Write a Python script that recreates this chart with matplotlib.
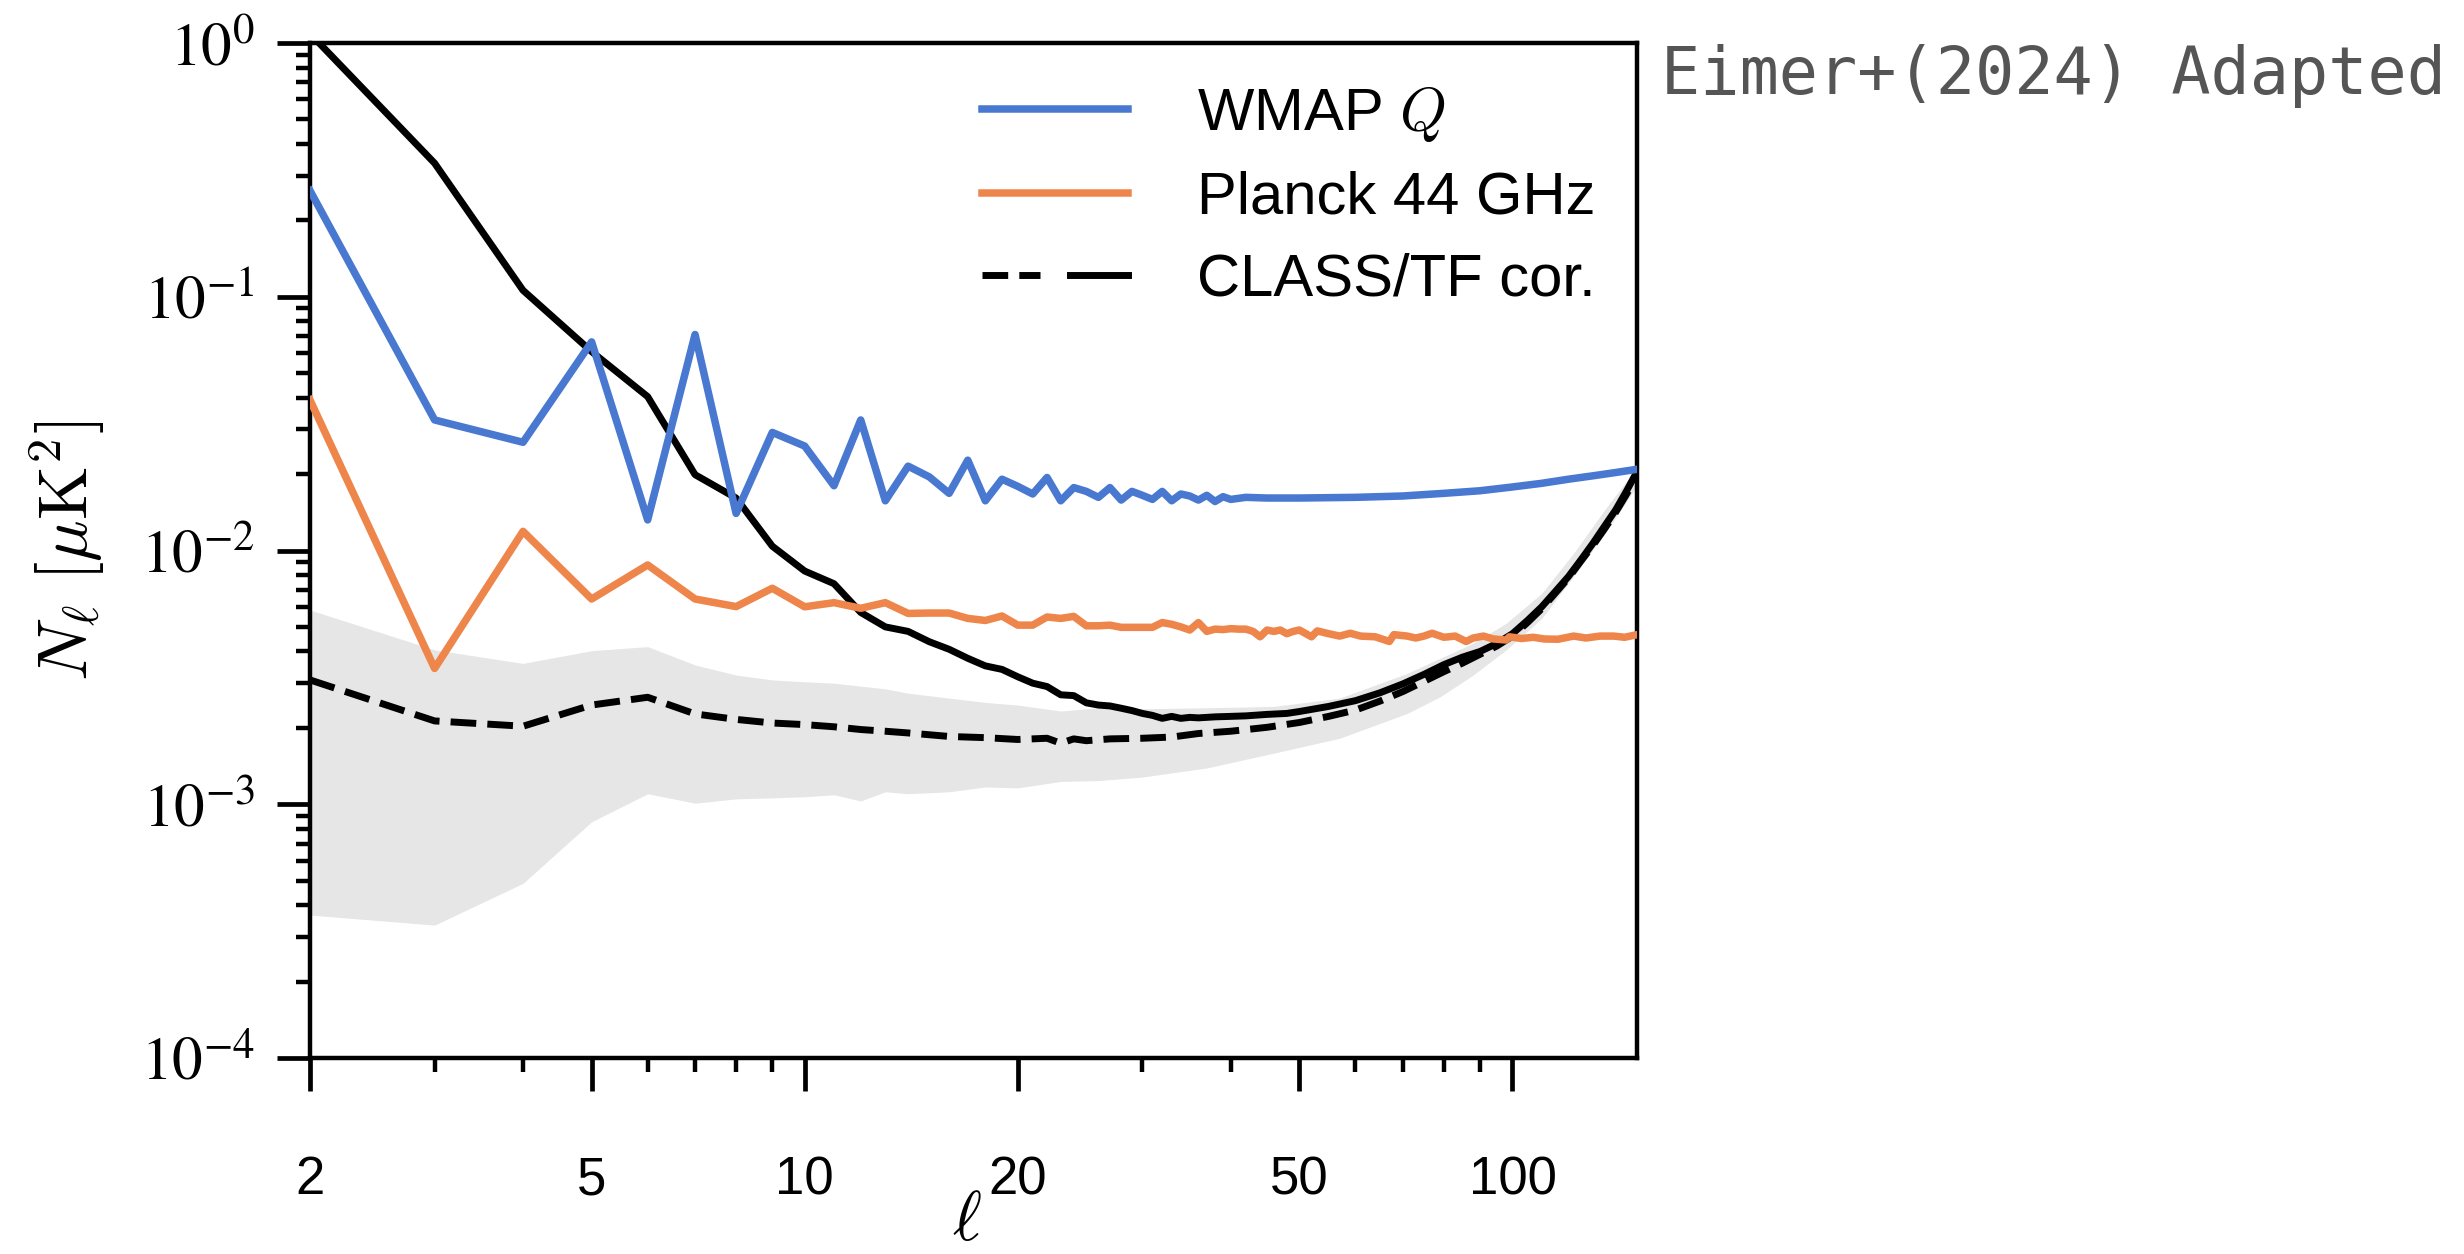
import matplotlib.pyplot as plt
import numpy as np
from matplotlib.legend_handler import HandlerTuple
from matplotlib.ticker import NullFormatter

plt.rcParams['font.family'] = ['Liberation Sans', 'DejaVu Sans']
plt.rcParams['mathtext.fontset'] = 'stix'

# WMAP Q noise spectrum
wmap_ell = [2, 3, 4, 5, 6, 7, 8, 9, 10, 11, 12, 13, 14, 15, 16, 17, 18, 19, 20,
            21, 22, 23, 24, 25, 26, 27, 28, 29, 30, 31, 32, 33, 34, 35, 36, 37,
            38, 39, 40, 42, 45, 50, 60, 70, 80, 90, 100, 110, 120, 130, 140, 150]
wmap_nl = [0.262, 0.0327, 0.0267, 0.0664, 0.0132, 0.0710, 0.0140, 0.0292,
           0.0258, 0.0180, 0.0327, 0.0157, 0.0215, 0.0195, 0.0168, 0.0227,
           0.0157, 0.0191, 0.0179, 0.0167, 0.0194, 0.0157, 0.0177, 0.0171,
           0.0162, 0.0177, 0.0158, 0.0171, 0.0165, 0.0159, 0.0171, 0.0157,
           0.0167, 0.0164, 0.0158, 0.0165, 0.0156, 0.0163, 0.0159, 0.0162,
           0.0161, 0.0161, 0.0162, 0.0164, 0.0168, 0.0172, 0.0178, 0.0184,
           0.0191, 0.0197, 0.0203, 0.0209]

# Planck 44 GHz noise spectrum
planck_ell = [2, 3, 4, 5, 6, 7, 8, 9, 10, 11, 12, 13, 14, 15, 16, 17, 18, 19,
              20, 21, 22, 23, 24, 25, 26, 27, 28, 29, 30, 31, 32, 33, 34, 35,
              36, 37, 38, 39, 40, 41, 42, 43, 44, 45, 46, 47, 48, 49, 50, 52,
              53, 55, 57, 59, 61, 64, 67, 68, 71, 73, 75, 77, 80, 83, 86, 88,
              91, 94, 98, 99, 103, 107, 111, 116, 122, 127, 133, 139, 144, 150]
planck_nl = [0.0392, 0.00343, 0.0119, 0.00644, 0.00877, 0.00644, 0.00601,
             0.00710, 0.00600, 0.00623, 0.00592, 0.00623, 0.00565, 0.00567,
             0.00567, 0.00540, 0.00530, 0.00552, 0.00508, 0.00508, 0.00547,
             0.00540, 0.00550, 0.00505, 0.00505, 0.00508, 0.00498, 0.00498,
             0.00498, 0.00498, 0.00520, 0.00512, 0.00500, 0.00486, 0.00520,
             0.00480, 0.00490, 0.00488, 0.00492, 0.00490, 0.00490, 0.00480,
             0.00457, 0.00486, 0.00480, 0.00486, 0.00470, 0.00480, 0.00486,
             0.00457, 0.00482, 0.00470, 0.00460, 0.00472, 0.00460, 0.00457,
             0.00438, 0.00466, 0.00460, 0.00452, 0.00460, 0.00472, 0.00455,
             0.00460, 0.00438, 0.00452, 0.00460, 0.00448, 0.00444, 0.00457,
             0.00450, 0.00455, 0.00448, 0.00447, 0.00460, 0.00452, 0.00460,
             0.00460, 0.00455, 0.00466]

# CLASS noise (solid)
class_ell = [2, 3, 4, 5, 6, 7, 8, 9, 10, 11, 12, 13, 14, 15, 16, 17, 18, 19,
             20, 21, 22, 23, 24, 25, 26, 27, 28, 29, 30, 31, 32, 33, 34, 35,
             36, 37, 38, 40, 42, 45, 48, 50, 55, 60, 65, 70, 75, 80, 85, 90,
             95, 100, 105, 110, 115, 120, 125, 130, 135, 140, 145, 150]
class_nl = [1.09, 0.336, 0.106, 0.0608, 0.0404, 0.0199, 0.0161, 0.0104,
            0.0083, 0.0074, 0.0057, 0.0050, 0.0048, 0.00437, 0.00408, 0.00376,
            0.00351, 0.00340, 0.00318, 0.00300, 0.00291, 0.00270, 0.00268,
            0.00251, 0.00246, 0.00244, 0.00239, 0.00234, 0.00228, 0.00224,
            0.00218, 0.00222, 0.00218, 0.00220, 0.00219, 0.00220, 0.00221,
            0.00222, 0.00223, 0.00226, 0.00228, 0.00232, 0.00243, 0.00256,
            0.00275, 0.00298, 0.00325, 0.00355, 0.0038, 0.0040, 0.0043,
            0.0047, 0.0053, 0.0060, 0.0069, 0.0079, 0.0092, 0.0107, 0.0125,
            0.0145, 0.0172, 0.0205]

# transfer-function corrected CLASS noise (dashed)
tf_ell = [2, 3, 4, 5, 6, 7, 8, 9, 10, 11, 12, 13, 14, 16, 18, 20, 22, 23, 24,
          25, 27, 30, 33, 36, 40, 45, 50, 55, 60, 65, 70, 75, 80, 85, 90, 95,
          100, 105, 110, 115, 120, 125, 130, 135, 140, 145, 150]
tf_nl = [0.00309, 0.00213, 0.00203, 0.00246, 0.00264, 0.00227, 0.00216,
         0.00209, 0.00206, 0.00202, 0.00197, 0.00194, 0.00191, 0.00185,
         0.00183, 0.00180, 0.00182, 0.00174, 0.00181, 0.00178, 0.00181,
         0.00182, 0.00184, 0.00190, 0.00194, 0.00201, 0.00210, 0.00222,
         0.00235, 0.00255, 0.00278, 0.00305, 0.00333, 0.0036, 0.0039, 0.0042,
         0.0046, 0.0052, 0.0059, 0.0068, 0.0078, 0.0091, 0.0105, 0.0122,
         0.0142, 0.0167, 0.0198]

# spread of the corrected noise (grey band)
band_ell = [2, 3, 4, 5, 6, 7, 8, 9, 10, 11, 12, 13, 14, 16, 18, 20, 23, 26,
            30, 37, 46, 57, 71, 79, 88, 98, 110, 122, 136, 150]
band_hi = [0.00583, 0.00406, 0.00359, 0.00403, 0.00418, 0.00354, 0.00323,
           0.00309, 0.00304, 0.00300, 0.00292, 0.00285, 0.00274, 0.00262,
           0.00252, 0.00246, 0.00233, 0.00240, 0.00238, 0.00240, 0.00243,
           0.00262, 0.00328, 0.00376, 0.00431, 0.00517, 0.00678, 0.00975,
           0.0149, 0.0212]
band_lo = [0.000366, 0.000334, 0.000488, 0.000853, 0.00110, 0.00101, 0.00105,
           0.00106, 0.00107, 0.00109, 0.00103, 0.00112, 0.00110, 0.00112,
           0.00117, 0.00116, 0.00123, 0.00124, 0.00128, 0.00139, 0.00159,
           0.00182, 0.00228, 0.00265, 0.00323, 0.00406, 0.00540, 0.00790,
           0.0120, 0.0180]

x_major = [2, 5, 10, 20, 50, 100]
x_minor = [3, 4, 6, 7, 8, 9, 30, 40, 60, 70, 80, 90]
y_major = [1e-4, 1e-3, 1e-2, 1e-1, 1]
y_labels = [r'$10^{-4}$', r'$10^{-3}$', r'$10^{-2}$', r'$10^{-1}$', r'$10^{0}$']

fig = plt.figure(figsize=(12.32, 6.27), dpi=200)
ax = fig.add_axes([0.1258, 0.1563, 0.5386, 0.8094])

ax.fill_between(band_ell, band_lo, band_hi, color='0.9', lw=0, zorder=1)
cls, = ax.plot(class_ell, class_nl, color='k', lw=2.5, zorder=3)
tf, = ax.plot(tf_ell, tf_nl, color='k', ls='--', lw=2.5, zorder=3)
wm, = ax.plot(wmap_ell, wmap_nl, color='#4878d0', lw=2.7, zorder=4)
pl, = ax.plot(planck_ell, planck_nl, color='#ee854a', lw=2.7, zorder=4)

ax.set_xscale('log')
ax.set_yscale('log')
ax.set_xlim(2, 150)
ax.set_ylim(1e-4, 1)

ax.set_xticks(x_major, labels=[str(v) for v in x_major])
ax.set_xticks(x_minor, minor=True)
ax.xaxis.set_minor_formatter(NullFormatter())
ax.set_yticks(y_major, labels=y_labels)
ax.yaxis.set_minor_formatter(NullFormatter())

for s in ax.spines.values():
    s.set_linewidth(1.6)
ax.tick_params(which='major', length=12, width=1.7, direction='out')
ax.tick_params(which='minor', length=5, width=1.6, direction='out')
ax.tick_params(axis='y', which='major', labelsize=22, pad=8)
ax.tick_params(axis='x', which='major', labelsize=19, pad=23)

ax.set_xlabel(r'$\ell$', fontsize=25, math_fontfamily='cm')
ax.xaxis.set_label_coords(0.495, -0.13)
ax.set_ylabel(r'$N_\ell\ [\mu\mathrm{K}^2]$', fontsize=25,
              math_fontfamily='cm', labelpad=12)

leg = ax.legend(
    [wm, pl, (tf, cls)],
    ['WMAP $Q$', 'Planck 44 GHz', 'CLASS/TF cor.'],
    handler_map={tuple: HandlerTuple(ndivide=None, pad=0.5)},
    loc='upper right',
    frameon=False,
    fontsize=21.5,
    handlelength=2.45,
    handletextpad=1.15,
    labelspacing=0.45,
    borderaxespad=0.3
)
for t in leg.get_texts():
    t.set_math_fontfamily('cm')

fig.text(0.674, 0.925, 'Eimer+(2024) Adapted', family='DejaVu Sans Mono',
         fontsize=23.5, color='#555555', ha='left', va='baseline')

fig.savefig('out.png', dpi=200)
